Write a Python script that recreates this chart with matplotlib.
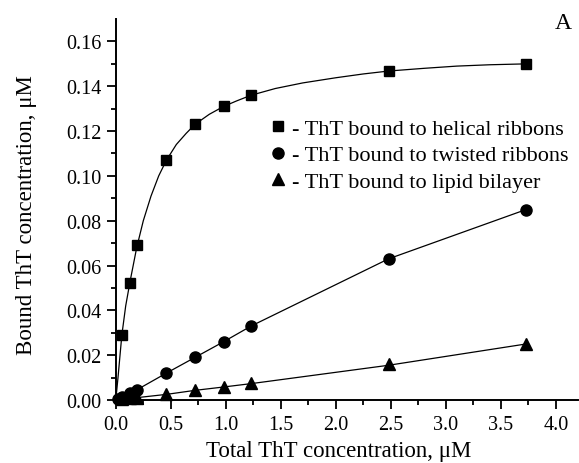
import numpy as np
import matplotlib.pyplot as plt
from matplotlib.lines import Line2D

plt.rcParams['font.family'] = ['Liberation Serif', 'DejaVu Serif']

# measured points
x_helical = [0.055, 0.13, 0.19, 0.46, 0.72, 0.98, 1.23, 2.48, 3.73]
y_helical = [0.029, 0.052, 0.069, 0.107, 0.123, 0.131, 0.136, 0.147, 0.150]

x_twisted = [0.02, 0.055, 0.13, 0.19, 0.46, 0.72, 0.98, 1.23, 2.48, 3.73]
y_twisted = [0.0005, 0.0012, 0.003, 0.0045, 0.012, 0.019, 0.026, 0.033, 0.063, 0.085]

x_lipid = [0.055, 0.13, 0.19, 0.46, 0.72, 0.98, 1.23, 2.48, 3.73]
y_lipid = [0.0003, 0.0007, 0.001, 0.0025, 0.0045, 0.006, 0.0075, 0.016, 0.025]

# fitted curves
xc_helical = [0.0, 0.02, 0.055, 0.09, 0.13, 0.19, 0.25, 0.32, 0.39, 0.46, 0.55, 0.64,
              0.72, 0.85, 0.98, 1.1, 1.23, 1.45, 1.7, 2.0, 2.25, 2.48, 2.8, 3.1, 3.4, 3.73]
yc_helical = [0.0, 0.010, 0.029, 0.042, 0.053, 0.068, 0.080, 0.091, 0.100, 0.107, 0.114, 0.119,
              0.123, 0.1275, 0.131, 0.1335, 0.136, 0.139, 0.1415, 0.1438, 0.1455, 0.1468,
              0.148, 0.149, 0.1496, 0.150]

xc_twisted = [0.0, 0.19, 0.46, 0.72, 0.98, 1.23, 2.48, 3.73]
yc_twisted = [0.0, 0.0045, 0.012, 0.019, 0.026, 0.033, 0.063, 0.085]

xc_lipid = [0.0, 0.46, 0.72, 0.98, 1.23, 2.48, 3.73]
yc_lipid = [0.0, 0.0025, 0.0043, 0.0058, 0.0073, 0.0155, 0.025]

labels = ['- ThT bound to helical ribbons',
          '- ThT bound to twisted ribbons',
          '- ThT bound to lipid bilayer']

xticks = [0.0, 0.5, 1.0, 1.5, 2.0, 2.5, 3.0, 3.5, 4.0]
yticks = [0.00, 0.02, 0.04, 0.06, 0.08, 0.10, 0.12, 0.14, 0.16]

fig = plt.figure(figsize=(5.79, 4.64), dpi=100)
ax = fig.add_axes([0.2, 0.1358, 0.798, 0.821])

ax.plot(xc_helical, yc_helical, color='black', lw=0.9)
ax.plot(xc_twisted, yc_twisted, color='black', lw=0.9)
ax.plot(xc_lipid, yc_lipid, color='black', lw=0.9)

ax.plot(x_helical, y_helical, 's', color='black', ms=7.5, clip_on=False)
ax.plot(x_twisted, y_twisted, 'o', color='black', ms=8, clip_on=False)
ax.plot(x_lipid, y_lipid, '^', color='black', ms=8.5, clip_on=False)

ax.set_xlim(0, 4.2)
ax.set_ylim(0, 0.17)
ax.set_xticks(xticks)
ax.set_xticks(np.arange(0.25, 4.2, 0.5), minor=True)
ax.set_yticks(yticks)
ax.set_yticks(np.arange(0.01, 0.17, 0.02), minor=True)
ax.set_xticklabels(['%.1f' % v for v in xticks])
ax.set_yticklabels(['%.2f' % v for v in yticks])

for s in ['top', 'right']:
    ax.spines[s].set_visible(False)
for s in ['left', 'bottom']:
    ax.spines[s].set_linewidth(1.4)
ax.tick_params(which='major', length=6.5, width=1.3, labelsize=14.5, direction='out')
ax.tick_params(axis='y', which='major', pad=4)
ax.tick_params(axis='x', which='major', pad=4.5)
ax.tick_params(which='minor', length=3.5, width=1.3, direction='out')

ax.set_xlabel('Total ThT concentration, \u03bcM', fontsize=16.5)
ax.set_ylabel('Bound ThT concentration, \u03bcM', fontsize=16.5)
ax.xaxis.set_label_coords(0.483, -0.105)
ax.yaxis.set_label_coords(-0.17, 0.488)

handles = [Line2D([], [], marker='s', ls='none', color='black', ms=7.5),
           Line2D([], [], marker='o', ls='none', color='black', ms=8),
           Line2D([], [], marker='^', ls='none', color='black', ms=8.5)]
fig.legend(handles, labels, loc='upper left', bbox_to_anchor=(0.461, 0.743),
           frameon=False, fontsize=16, handlelength=1.0, handletextpad=0.15,
           borderpad=0, borderaxespad=0, labelspacing=0.27)

fig.text(0.958, 0.95, 'A', fontsize=17, ha='left', va='center')

fig.savefig('out.png', dpi=100)
